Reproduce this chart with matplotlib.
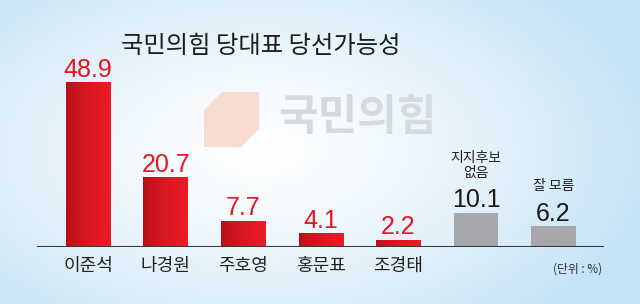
import numpy as np
import matplotlib.pyplot as plt
from matplotlib.patches import Polygon

plt.rcParams['font.family'] = ['Noto Sans CJK KR', 'DejaVu Sans']

# data
names = ['이준석', '나경원', '주호영', '홍문표', '조경태', '지지후보\n없음', '잘 모름']
values = [48.9, 20.7, 7.7, 4.1, 2.2, 10.1, 6.2]
candidate = [True, True, True, True, True, False, False]
title = '국민의힘 당대표 당선가능성'
unit = '(단위 : %)'
watermark = '국민의힘'

W, H = 640, 304
fig = plt.figure(figsize=(W / 100, H / 100), dpi=100)

# soft blue background, whiter in the middle
bg = fig.add_axes([0, 0, 1, 1], zorder=0)
yy, xx = np.mgrid[0:H, 0:W]
d = np.clip(np.hypot((xx - 260) / 400, (yy - 150) / 230), 0, 1)
edge = np.array([196, 227, 246]) / 255
img = 1 + (edge - 1) * d[..., None] ** 1.3
bg.imshow(img, extent=[0, W, H, 0], aspect='auto')
bg.set_xlim(0, W)
bg.set_ylim(H, 0)
bg.axis('off')

# party logo watermark
bg.add_patch(Polygon([(204, 110), (222, 92), (259, 92), (259, 129), (241, 147), (204, 147)],
                     closed=True, fc='#f8dbd1', ec='none'))
bg.text(357, 117, watermark, fontsize=31, fontweight='black', color='#d7dadd',
        ha='center', va='center')
bg.text(261, 46, title, fontsize=17.5, fontweight='medium', color='#1e1e1e',
        ha='center', va='center')

ax = fig.add_axes([37 / W, 57 / H, 567 / W, 217 / H], zorder=1)
ax.patch.set_visible(False)
x = np.arange(len(values))
cols = ['#e31b23' if c else '#a7a8ab' for c in candidate]
bars = ax.bar(x, values, width=0.57, color=cols, zorder=2)

# red bars get a dark-to-bright gradient
grad = np.linspace(0, 1, 64) ** 0.6
dark = np.array([[0.70, 0.06, 0.09]])
bright = np.array([[0.92, 0.11, 0.15]])
red = dark + grad[:, None] * (bright - dark)
for b, c in zip(bars, candidate):
    if not c:
        continue
    im = ax.imshow(red[None, :, :], extent=[b.get_x(), b.get_x() + b.get_width(), 0, b.get_height()],
                   aspect='auto', zorder=3)
    im.set_clip_path(b)

ax.set_xlim(-0.657, 6.65)
ax.set_ylim(0, 64.4)
ax.axhline(-0.35, color='#c8d2da', lw=1.5, zorder=4)
ax.axhline(0, color='#3a3a3a', lw=1.5, zorder=5)
ax.axis('off')

for xi, v, n, c in zip(x, values, names, candidate):
    ax.annotate(f'{v}', (xi, v), xytext=(0, 4), textcoords='offset points',
                ha='center', va='baseline', fontsize=18, family='Liberation Sans',
                color='#e8141e' if c else '#1a1a1a', zorder=6)
    if c:
        ax.annotate(n, (xi, 0), xytext=(0, -7), textcoords='offset points',
                    ha='center', va='top', fontsize=13, fontweight='medium', color='#222222')
    else:
        ax.annotate(n, (xi, v), xytext=(0, 24), textcoords='offset points',
                    ha='center', va='bottom', fontsize=10, fontweight='medium',
                    color='#222222', linespacing=1.1)

fig.text(578 / W, 1 - 269 / H, unit, fontsize=8.5, ha='center', va='center', color='#333333')

fig.savefig('out.png', dpi=100)
